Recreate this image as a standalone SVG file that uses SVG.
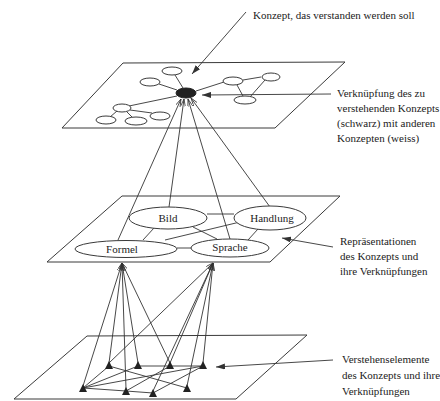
<svg xmlns="http://www.w3.org/2000/svg" width="440" height="401" viewBox="0 0 440 401">
<defs>
<style>
.pl{fill:none;stroke:#3a3a3a;stroke-width:1}
.el{fill:#fff;stroke:#3a3a3a;stroke-width:1}
.ln{fill:none;stroke:#333;stroke-width:0.9}
.ar{fill:none;stroke:#333;stroke-width:0.9;marker-end:url(#ah)}
.cv{fill:none;stroke:#333;stroke-width:0.9;marker-end:url(#sh)}
.tx{font-family:"Liberation Serif","Times New Roman",serif;font-size:11px;fill:#222}
.tri{fill:#222}
</style>
<marker id="ah" markerUnits="userSpaceOnUse" markerWidth="9" markerHeight="6" refX="9" refY="3" orient="auto"><path d="M0,0 L9,3 L0,6 z" fill="#333"/></marker>
<marker id="sh" markerUnits="userSpaceOnUse" markerWidth="8" markerHeight="5" refX="8" refY="2.5" orient="auto"><path d="M0,0 L8,2.5 L0,5" fill="none" stroke="#333" stroke-width="0.8"/></marker>
</defs>

<g id="planes">
<polygon class="pl" points="123,63 345,62 275,128 62,128"/>
<polygon class="pl" points="122,196 340,196 270,262 47,262"/>
<polygon class="pl" points="87,336 307,335 236,399 14,399"/>
</g>

<g id="connectors">
<!-- top plane links -->
<line class="ln" x1="183" y1="88" x2="175" y2="75"/>
<line class="ln" x1="177" y1="90" x2="159" y2="84"/>
<line class="ln" x1="196" y1="91" x2="224" y2="82"/>
<line class="ln" x1="243" y1="80" x2="261" y2="77"/>
<line class="ln" x1="237" y1="85" x2="243" y2="96"/>
<line class="ln" x1="265" y1="80" x2="250" y2="97"/>
<line class="ln" x1="177" y1="96" x2="129" y2="106"/>
<line class="ln" x1="117" y1="111" x2="110" y2="117"/>
<line class="ln" x1="127" y1="112" x2="132" y2="117"/>
<line class="ln" x1="130" y1="110" x2="152" y2="113"/>
<!-- middle to top -->
<line class="cv" x1="118" y1="240" x2="181" y2="99"/>
<line class="cv" x1="169" y1="207" x2="184" y2="99"/>
<line class="cv" x1="230" y1="239" x2="188" y2="99"/>
<line class="cv" x1="270" y1="207" x2="191" y2="98"/>
<!-- middle plane links -->
<line class="ln" x1="207" y1="214" x2="234" y2="214"/>
<line class="ln" x1="165" y1="240" x2="240" y2="222"/>
<line class="ln" x1="193" y1="227" x2="217" y2="239"/>
<line class="ln" x1="177" y1="248" x2="191" y2="248"/>
<line class="ln" x1="143" y1="240" x2="154" y2="228"/>
<line class="ln" x1="258" y1="229" x2="248" y2="240"/>
<!-- bottom to middle -->
<line class="cv" x1="83" y1="386" x2="122" y2="263"/>
<line class="cv" x1="109" y1="363" x2="122" y2="263"/>
<line class="cv" x1="126" y1="389" x2="122" y2="263"/>
<line class="cv" x1="138" y1="363" x2="122" y2="263"/>
<line class="cv" x1="170" y1="363" x2="122" y2="263"/>
<line class="cv" x1="109" y1="363" x2="213" y2="263"/>
<line class="cv" x1="153" y1="391" x2="213" y2="263"/>
<line class="cv" x1="170" y1="363" x2="213" y2="263"/>
<line class="cv" x1="187" y1="386" x2="213" y2="263"/>
<line class="cv" x1="203" y1="363" x2="213" y2="263"/>
<!-- bottom plane links -->
<line class="ln" x1="83" y1="388" x2="109" y2="366"/>
<line class="ln" x1="83" y1="388" x2="138" y2="366"/>
<line class="ln" x1="83" y1="388" x2="203" y2="366"/>
<line class="ln" x1="83" y1="388" x2="126" y2="391"/>
<line class="ln" x1="109" y1="366" x2="187" y2="388"/>
<line class="ln" x1="138" y1="366" x2="170" y2="366"/>
<line class="ln" x1="170" y1="366" x2="203" y2="366"/>
<line class="ln" x1="126" y1="391" x2="153" y2="393"/>
<line class="ln" x1="153" y1="393" x2="203" y2="366"/>
<line class="ln" x1="126" y1="391" x2="170" y2="366"/>
<!-- label arrows -->
<line class="ar" x1="246" y1="12" x2="192" y2="74"/>
<line class="ar" x1="331" y1="94" x2="202" y2="95"/>
<line class="ar" x1="333" y1="247" x2="282" y2="238"/>
<line class="ar" x1="333" y1="360" x2="216" y2="367"/>
</g>

<g id="top-concepts">
<ellipse class="el" cx="172" cy="71" rx="10" ry="4"/>
<ellipse class="el" cx="150" cy="82" rx="10" ry="4"/>
<ellipse class="el" cx="233" cy="81" rx="10" ry="4"/>
<ellipse class="el" cx="271" cy="77" rx="9" ry="4"/>
<ellipse class="el" cx="245" cy="100" rx="11" ry="4"/>
<ellipse class="el" cx="122" cy="108" rx="9" ry="4"/>
<ellipse class="el" cx="106" cy="120" rx="10" ry="4"/>
<ellipse class="el" cx="136" cy="121" rx="11" ry="4"/>
<ellipse class="el" cx="160" cy="116" rx="10" ry="4"/>
</g>
<g id="target-concept">
<ellipse cx="186" cy="93" rx="10" ry="5" fill="#222" stroke="#222"/>
</g>

<g id="bild"><ellipse class="el" cx="168" cy="218" rx="39" ry="11"/><text class="tx" x="168" y="222" text-anchor="middle">Bild</text></g>
<g id="handlung"><ellipse class="el" cx="270" cy="218" rx="36" ry="12"/><text class="tx" x="272" y="222" text-anchor="middle">Handlung</text></g>
<g id="formel"><ellipse class="el" cx="126" cy="249" rx="51" ry="8.5"/><text class="tx" x="122" y="253" text-anchor="middle">Formel</text></g>
<g id="sprache"><ellipse class="el" cx="230" cy="248" rx="39" ry="9"/><text class="tx" x="230" y="251" text-anchor="middle">Sprache</text></g>

<g id="elements">
<polygon class="tri" points="109,361 105,369 113,369"/>
<polygon class="tri" points="138,361 134,369 142,369"/>
<polygon class="tri" points="170,361 166,369 174,369"/>
<polygon class="tri" points="203,361 199,369 207,369"/>
<polygon class="tri" points="83,384 79,392 87,392"/>
<polygon class="tri" points="126,387 122,395 130,395"/>
<polygon class="tri" points="153,389 149,397 157,397"/>
<polygon class="tri" points="187,384 183,392 191,392"/>
</g>

<g id="labels">
<text class="tx" x="253" y="19">Konzept, das verstanden werden soll</text>
<text class="tx" x="337" y="97">Verknüpfung des zu</text>
<text class="tx" x="337" y="112">verstehenden Konzepts</text>
<text class="tx" x="337" y="127">(schwarz) mit anderen</text>
<text class="tx" x="337" y="142">Konzepten (weiss)</text>
<text class="tx" x="340" y="245">Repräsentationen</text>
<text class="tx" x="340" y="260">des Konzepts und</text>
<text class="tx" x="340" y="275">ihre Verknüpfungen</text>
<text class="tx" x="342" y="363">Verstehenselemente</text>
<text class="tx" x="342" y="379">des Konzepts und ihre</text>
<text class="tx" x="342" y="395">Verknüpfungen</text>
</g>
</svg>
